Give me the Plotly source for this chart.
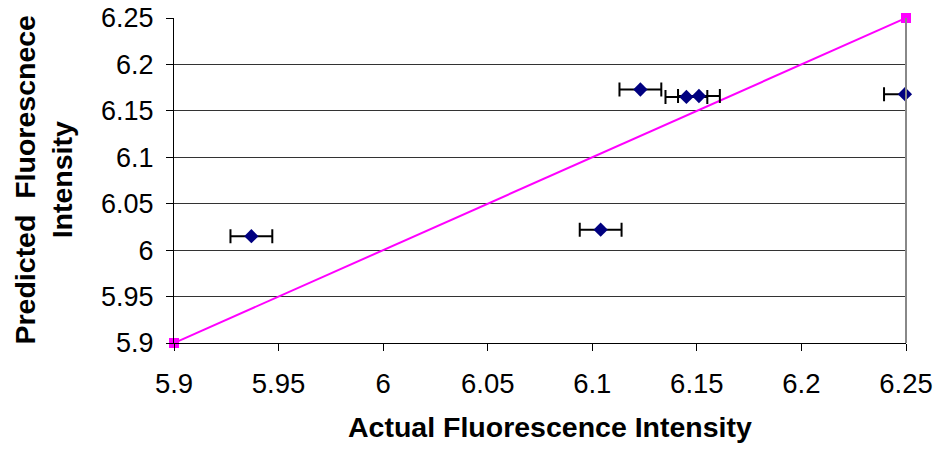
import plotly.graph_objects as go

actual = [5.937, 6.104, 6.123, 6.145, 6.151, 6.2495]
predicted = [6.015, 6.022, 6.173, 6.165, 6.166, 6.168]
x_error = [0.01, 0.01, 0.01, 0.01, 0.01, 0.01]
ideal_x = [5.9, 6.25]
ideal_y = [5.9, 6.25]
tick_vals = [5.9, 5.95, 6.0, 6.05, 6.1, 6.15, 6.2, 6.25]
tick_text = ["5.9", "5.95", "6", "6.05", "6.1", "6.15", "6.2", "6.25"]

font = "Liberation Sans, Arial, sans-serif"

L, R, T, B = 174, 34, 18, 109
W, H = 940, 452
pw, ph = W - L - R, H - T - B

fig = go.Figure()
fig.add_trace(go.Scatter(
    x=ideal_x, y=ideal_y, mode="lines+markers",
    line=dict(color="#FF00FF", width=2),
    marker=dict(symbol="square", size=10, color="#FF00FF"),
    cliponaxis=False, showlegend=False, hoverinfo="skip"))
fig.add_trace(go.Scatter(
    x=actual, y=predicted, mode="markers",
    marker=dict(symbol="diamond", size=11, color="#000080"),
    error_x=dict(type="data", array=x_error, color="black", thickness=2, width=7),
    cliponaxis=False, showlegend=False, hoverinfo="skip"))

fig.update_layout(
    width=W, height=H,
    margin=dict(l=L, r=R, t=T, b=B, autoexpand=False),
    paper_bgcolor="white", plot_bgcolor="white",
    font=dict(family=font, size=27, color="black"),
    xaxis=dict(range=[5.9, 6.25], tickvals=tick_vals, ticktext=tick_text,
               showgrid=False, zeroline=False, showline=True, linecolor="black",
               linewidth=1, ticks="outside", ticklen=7, tickcolor="black",
               automargin=False, ticklabelstandoff=9, ticklabeloverflow="allow",
               tickfont=dict(size=27.5)),
    yaxis=dict(range=[5.9, 6.25], tickvals=tick_vals, ticktext=tick_text,
               showgrid=True, gridcolor="#333333", gridwidth=1, zeroline=False,
               showline=True, linecolor="black", linewidth=1,
               ticks="outside", ticklen=7, tickcolor="black",
               automargin=False, ticklabelstandoff=7, ticklabeloverflow="allow",
               tickfont=dict(size=27)),
)
fig.add_shape(type="line", xref="paper", yref="paper", x0=1, x1=1, y0=0, y1=1,
              line=dict(color="#888888", width=2))
fig.add_annotation(text="<b>Actual Fluorescence Intensity</b>", xref="paper", yref="paper",
                   x=(550 - L) / pw, y=(H - B - 427) / ph, xanchor="center", yanchor="middle",
                   showarrow=False, font=dict(size=28.5))
fig.add_annotation(text="<b>Predicted  Fluorescnece<br>Intensity</b>", xref="paper", yref="paper",
                   x=(43 - L) / pw, y=0.5, xanchor="center", yanchor="middle",
                   textangle=-90, showarrow=False, font=dict(size=28.5))

fig.write_html("out.html", config={"displayModeBar": False, "staticPlot": True},
               post_script="document.body.style.margin='0px';")
